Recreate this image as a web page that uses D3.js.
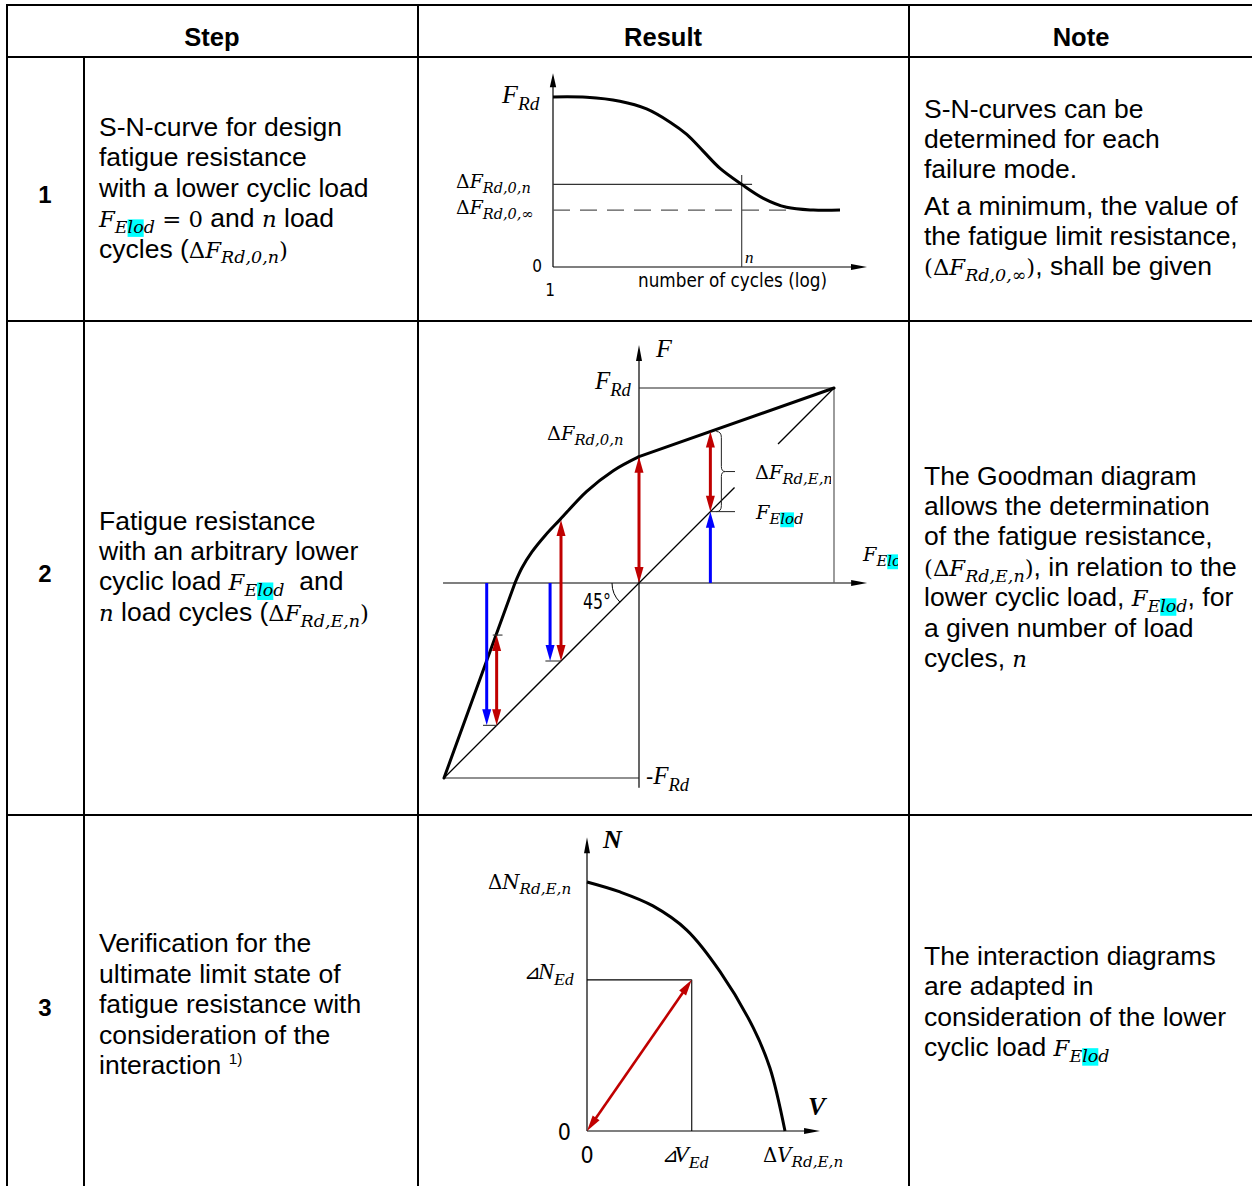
<!DOCTYPE html>
<html>
<head>
<meta charset="utf-8">
<script src="https://cdn.jsdelivr.net/npm/d3@7"></script>
<style>
  html, body { margin: 0; padding: 0; background: #fff; }
  svg { display: block; }
  text { white-space: pre; }
</style>
</head>
<body>
<svg id="chart" width="1252" height="1186"></svg>
<script>
// ---------- data ----------
const headers = ["Step", "Result", "Note"];
const stepNumbers = ["1", "2", "3"];

// step 1: S-N curve, x = log(cycles), y = F / F_Rd
const snCurve = [
  [0, 1.0], [1.07, 0.998], [2.13, 0.975], [2.98, 0.93], [3.73, 0.852],
  [4.26, 0.78], [4.79, 0.68], [5.32, 0.58], [6.01, 0.486], [6.7, 0.404],
  [7.44, 0.351], [8.29, 0.335], [9.14, 0.335]
];
const snLevels = { dF0n: 0.486, dFinf: 0.335, nCycles: 6.01 };

// step 2: Goodman diagram, both axes in units of F_Rd
const goodmanLower = [[-1, -1], [-0.636, 0]];
const goodmanArc = [
  [-0.636, 0], [-0.6, 0.078], [-0.55, 0.158], [-0.48, 0.245], [-0.405, 0.325],
  [-0.268, 0.47], [-0.132, 0.576], [0, 0.648]
];
const goodmanUpper = [[0, 0.648], [1, 1]];
const diagonalParts = [[[-1, -1], [0.49, 0.49]], [[0.713, 0.713], [1, 1]]];
// vertical arrows: x, from, to, colour, double headed
const goodmanArrows = [
  { x: 0, y1: 0, y2: 0.648, c: "red", both: true },
  { x: -0.4, y1: -0.4, y2: 0.323, c: "red", both: true },
  { x: -0.456, y1: 0, y2: -0.4, c: "blue", both: false },
  { x: -0.73, y1: -0.73, y2: -0.267, c: "red", both: true },
  { x: -0.781, y1: 0, y2: -0.73, c: "blue", both: false },
  { x: 0.366, y1: 0, y2: 0.366, c: "blue", both: false },
  { x: 0.366, y1: 0.366, y2: 0.777, c: "red", both: true }
];
const goodmanTicks = [[-0.8, -0.73, -0.73], [-0.75, -0.7, -0.267], [-0.48, -0.4, -0.4]];

// step 3: N-V interaction, both normalised
const interactionCurve = [
  [0, 1], [0.167, 0.96], [0.333, 0.904], [0.504, 0.807],
  [0.672, 0.64], [0.84, 0.414], [0.924, 0.253], [1, 0]
];
const designPoint = { v: 0.529, n: 0.607 };

// ---------- fonts ----------
const SANS = "'Liberation Sans', Arial, sans-serif";
const NARROW = "'Liberation Sans Narrow', 'Arial Narrow', 'DejaVu Sans Condensed', sans-serif";
const TIMES = "'Liberation Serif', 'Times New Roman', serif";
const MATH = "'DejaVu Serif', Cambria, serif";
const RED = "#c00000", BLUE = "#0000ff";

const svg = d3.select("#chart");

// text built from pieces (math, subscripts, highlight)
const T = t => ({ t, k: "sans" });
const M = t => ({ t, k: "mi" });
const U = t => ({ t, k: "mu" });
const S = (t, bg) => ({ t, k: "sub", bg });
const P = t => ({ t, k: "sup" });
const TI = t => ({ t, k: "ti" });
const TS = t => ({ t, k: "tsub" });

function rich(g, x, y, parts, size) {
  size = size || 26.5;
  let cx = x;
  parts.forEach(p => {
    let fam = SANS, fs = size, it = false, dy = 0;
    if (p.k === "mi") { fam = MATH; fs = size * 0.86; it = true; }
    if (p.k === "mu") { fam = MATH; fs = size * 0.86; }
    if (p.k === "sub") { fam = MATH; fs = size * 0.66; it = true; dy = size * 0.22; }
    if (p.k === "sup") { fs = size * 0.58; dy = -size * 0.36; }
    if (p.k === "ti") { fam = TIMES; fs = size; it = true; }
    if (p.k === "tsub") { fam = TIMES; fs = size * 0.74; it = true; dy = size * 0.26; }
    const t = g.append("text")
      .attr("x", cx).attr("y", y + dy)
      .attr("xml:space", "preserve")
      .attr("font-family", fam).attr("font-size", fs)
      .attr("font-style", it ? "italic" : "normal")
      .attr("fill", "#000")
      .text(p.t);
    const w = t.node().getComputedTextLength();
    if (p.bg) {
      g.insert("rect", () => t.node())
        .attr("x", cx).attr("y", y + dy - fs * 0.78)
        .attr("width", w).attr("height", fs * 1.0)
        .attr("fill", "#00ffff");
    }
    cx += w;
  });
  return cx;
}

function arrowHead(g, tx, ty, dx, dy, len, hw, color) {
  const l = Math.hypot(dx, dy), ux = dx / l, uy = dy / l;
  const bx = tx - ux * len, by = ty - uy * len;
  g.append("path")
    .attr("d", `M${tx},${ty}L${bx - uy * hw},${by + ux * hw}L${bx + uy * hw},${by - ux * hw}Z`)
    .attr("fill", color);
}

function seg(g, x1, y1, x2, y2, color, w) {
  return g.append("line")
    .attr("x1", x1).attr("y1", y1).attr("x2", x2).attr("y2", y2)
    .attr("stroke", color || "#000").attr("stroke-width", w || 1.2);
}

// ---------- table ----------
const grid = svg.append("g");
const LW = 2;
seg(grid, 6, 5, 1252, 5, "#000", LW);
seg(grid, 6, 57, 1252, 57, "#000", LW);
seg(grid, 6, 321, 1252, 321, "#000", LW);
seg(grid, 6, 815, 1252, 815, "#000", LW);
seg(grid, 7, 4, 7, 1186, "#000", LW);
seg(grid, 84, 57, 84, 1186, "#000", LW);
seg(grid, 418, 4, 418, 1186, "#000", LW);
seg(grid, 909, 4, 909, 1186, "#000", LW);

const headerX = [212, 663, 1081];
headers.forEach((h, i) => {
  grid.append("text").attr("x", headerX[i]).attr("y", 46)
    .attr("text-anchor", "middle").attr("font-family", SANS)
    .attr("font-weight", "bold").attr("font-size", 25.5).text(h);
});
const numY = [203, 582, 1016];
stepNumbers.forEach((s, i) => {
  grid.append("text").attr("x", 45).attr("y", numY[i])
    .attr("text-anchor", "middle").attr("font-family", SANS)
    .attr("font-weight", "bold").attr("font-size", 24).text(s);
});

const FElod = [M("F"), S("E"), S("lo", true), S("d")];

function para(x, y0, lines, gap) {
  lines.forEach((ln, i) => rich(svg, x, y0 + i * (gap || 30.4), ln));
}

para(99, 136, [
  [T("S-N-curve for design")],
  [T("fatigue resistance")],
  [T("with a lower cyclic load")],
  [...FElod, U(" = 0"), T(" and "), M("n"), T(" load")],
  [T("cycles ("), U("Δ"), M("F"), S("Rd,0,n"), U(")")]
]);
para(99, 529.5, [
  [T("Fatigue resistance")],
  [T("with an arbitrary lower")],
  [T("cyclic load "), ...FElod, T("  and")],
  [M("n"), T(" load cycles ("), U("Δ"), M("F"), S("Rd,E,n"), U(")")]
]);
const s3 = svg.append("g");
["Verification for the", "ultimate limit state of", "fatigue resistance with",
 "consideration of the"].forEach((l, i) => rich(s3, 99, 952 + i * 30.5, [T(l)]));
rich(s3, 99, 952 + 4 * 30.5, [T("interaction "), P("1)")]);

para(924, 117.7, [
  [T("S-N-curves can be")],
  [T("determined for each")],
  [T("failure mode.")]
], 30.3);
para(924, 215, [
  [T("At a minimum, the value of")],
  [T("the fatigue limit resistance,")],
  [U("("), U("Δ"), M("F"), S("Rd,0,∞"), U(")"), T(", shall be given")]
], 30);
para(924, 484.5, [
  [T("The Goodman diagram")],
  [T("allows the determination")],
  [T("of the fatigue resistance,")],
  [U("("), U("Δ"), M("F"), S("Rd,E,n"), U(")"), T(", in relation to the")],
  [T("lower cyclic load, "), ...FElod, T(", for")],
  [T("a given number of load")],
  [T("cycles, "), M("n")]
], 30.4);
para(924, 964.5, [
  [T("The interaction diagrams")],
  [T("are adapted in")],
  [T("consideration of the lower")],
  [T("cyclic load "), ...FElod]
], 30.5);

// ---------- diagram 1: S-N curve ----------
const g1 = svg.append("g");
const x1 = d3.scaleLinear().domain([0, 10]).range([553, 867]);
const y1 = d3.scaleLinear().domain([0, 1]).range([267, 97]);

seg(g1, x1(0), y1(0), x1(10) - 6, y1(0), "#000", 1.2);
arrowHead(g1, x1(10), y1(0), 1, 0, 16, 3, "#000");
seg(g1, x1(0), y1(0), x1(0), y1(1.14) + 6, "#000", 1.2);
arrowHead(g1, x1(0), y1(1.14), 0, -1, 14, 3.2, "#000");

seg(g1, x1(0), y1(snLevels.dF0n), x1(snLevels.nCycles + 0.33), y1(snLevels.dF0n), "#333", 1.1);
seg(g1, x1(snLevels.nCycles), y1(snLevels.dF0n + 0.055), x1(snLevels.nCycles), y1(0), "#333", 1.1);
seg(g1, x1(0), y1(snLevels.dFinf), x1(7.6), y1(snLevels.dFinf), "#555", 1.2)
  .attr("stroke-dasharray", "17,10");

g1.append("path")
  .datum(snCurve)
  .attr("fill", "none").attr("stroke", "#000").attr("stroke-width", 3)
  .attr("d", d3.line().x(d => x1(d[0])).y(d => y1(d[1])).curve(d3.curveCatmullRom));

rich(g1, 502, 103, [TI("F"), TS("Rd")], 26);
rich(g1, 456, 188, [U("Δ"), M("F"), S("Rd,0,n")], 22);
rich(g1, 456, 214, [U("Δ"), M("F"), S("Rd,0,∞")], 22);
g1.append("text").attr("x", 542).attr("y", 272).attr("text-anchor", "end")
  .attr("font-family", NARROW).attr("font-size", 17).text("0");
g1.append("text").attr("x", 550).attr("y", 296).attr("text-anchor", "middle")
  .attr("font-family", NARROW).attr("font-size", 17).text("1");
g1.append("text").attr("x", 745).attr("y", 263)
  .attr("font-family", TIMES).attr("font-style", "italic").attr("font-size", 17).text("n");
g1.append("text").attr("x", 638).attr("y", 287)
  .attr("font-family", NARROW).attr("font-size", 19)
  .attr("textLength", 189).attr("lengthAdjust", "spacingAndGlyphs")
  .text("number of cycles (log)");

// ---------- diagram 2: Goodman ----------
const g2 = svg.append("g");
const gx = d3.scaleLinear().domain([-1, 1]).range([444, 834]);
const gy = d3.scaleLinear().domain([-1, 1]).range([778, 388]);
const gLine = d3.line().x(d => gx(d[0])).y(d => gy(d[1]));

seg(g2, gx(-1.005), gy(0), gx(1.17) - 6, gy(0), "#000", 1.2);
arrowHead(g2, gx(1.17), gy(0), 1, 0, 16, 3, "#000");
seg(g2, gx(0), gy(-1.05), gx(0), gy(1.22) + 6, "#000", 1.2);
arrowHead(g2, gx(0), gy(1.22), 0, -1, 16, 3, "#000");

seg(g2, gx(0), gy(1), gx(1), gy(1), "#222", 1.2);
seg(g2, gx(1), gy(1), gx(1), gy(0), "#666", 1.3);
seg(g2, gx(-1), gy(-1), gx(0), gy(-1), "#222", 1.2);
diagonalParts.forEach(p => seg(g2, gx(p[0][0]), gy(p[0][1]), gx(p[1][0]), gy(p[1][1]), "#000", 1.3));

// 45 degree arc
const r45 = 27;
g2.append("path")
  .attr("d", `M${gx(0) - r45},${gy(0)} A${r45},${r45} 0 0 0 ${gx(0) - r45 * Math.SQRT1_2},${gy(0) + r45 * Math.SQRT1_2}`)
  .attr("fill", "none").attr("stroke", "#000").attr("stroke-width", 1);

[goodmanLower, goodmanUpper].forEach(d =>
  g2.append("path").datum(d).attr("fill", "none").attr("stroke", "#000")
    .attr("stroke-width", 3).attr("stroke-linecap", "round").attr("d", gLine));
g2.append("path").datum(goodmanArc).attr("fill", "none").attr("stroke", "#000")
  .attr("stroke-width", 3).attr("d", d3.line().x(d => gx(d[0])).y(d => gy(d[1])).curve(d3.curveCatmullRom));

goodmanTicks.forEach(t => seg(g2, gx(t[0]), gy(t[2]), gx(t[1]), gy(t[2]), "#333", 1.1));

goodmanArrows.forEach(a => {
  const col = a.c === "red" ? RED : BLUE;
  const X = gx(a.x), Y1 = gy(a.y1), Y2 = gy(a.y2);
  const dir = Y2 > Y1 ? 1 : -1;
  seg(g2, X, Y1 + (a.both ? dir * 10 : 0), X, Y2 - dir * 10, col, 3);
  arrowHead(g2, X, Y2, 0, dir, 16, 4.5, col);
  if (a.both) arrowHead(g2, X, Y1, 0, -dir, 16, 4.5, col);
});

// brace for delta F_Rd,E,n
const bA = goodmanArrows[6];
const bx0 = gx(bA.x) + 6, bTop = gy(bA.y2), bBot = gy(bA.y1), bMid = (bTop + bBot) / 2;
g2.append("path")
  .attr("d", `M${bx0},${bTop} Q${bx0 + 5},${bTop} ${bx0 + 5},${bTop + 6} L${bx0 + 5},${bMid - 5} Q${bx0 + 5},${bMid} ${bx0 + 9},${bMid} Q${bx0 + 5},${bMid} ${bx0 + 5},${bMid + 5} L${bx0 + 5},${bBot - 6} Q${bx0 + 5},${bBot} ${bx0},${bBot}`)
  .attr("fill", "none").attr("stroke", "#222").attr("stroke-width", 1);
seg(g2, bx0 + 9, bMid, 735, bMid, "#222", 1);
seg(g2, gx(bA.x), bBot, 735, bBot, "#222", 1);

const defs = svg.append("defs");
defs.append("clipPath").attr("id", "clipA").append("rect")
  .attr("x", 740).attr("y", 440).attr("width", 91).attr("height", 60);
defs.append("clipPath").attr("id", "clipB").append("rect")
  .attr("x", 850).attr("y", 530).attr("width", 48).attr("height", 50);

rich(g2, 656, 357, [TI("F")], 26);
rich(g2, 595, 389, [TI("F"), TS("Rd")], 25);
rich(g2, 547, 440, [U("Δ"), M("F"), S("Rd,0,n")], 22.5);
rich(g2.append("g").attr("clip-path", "url(#clipA)"), 755, 479, [U("Δ"), M("F"), S("Rd,E,n")], 22.5);
rich(g2, 756, 519, [M("F"), S("E"), S("lo", true), S("d")], 22.5);
rich(g2.append("g").attr("clip-path", "url(#clipB)"), 863, 561, [M("F"), S("E"), S("lo", true), S("d")], 22.5);
rich(g2, 646, 784, [U("-"), TI("F"), TS("Rd")], 25);
g2.append("text").attr("x", 583).attr("y", 609)
  .attr("font-family", NARROW).attr("font-size", 21)
  .attr("textLength", 28).attr("lengthAdjust", "spacingAndGlyphs").text("45°");

// ---------- diagram 3: interaction ----------
const g3 = svg.append("g");
const ix = d3.scaleLinear().domain([0, 1]).range([587, 785]);
const iy = d3.scaleLinear().domain([0, 1]).range([1131, 882]);

seg(g3, ix(0), iy(0), ix(1.177) - 6, iy(0), "#000", 1.2);
arrowHead(g3, ix(1.177), iy(0), 1, 0, 16, 3, "#000");
seg(g3, ix(0), iy(0), ix(0), iy(1.18) + 6, "#000", 1.2);
arrowHead(g3, ix(0), iy(1.18), 0, -1, 16, 3, "#000");

seg(g3, ix(0), iy(designPoint.n), ix(designPoint.v), iy(designPoint.n), "#000", 1.1);
seg(g3, ix(designPoint.v), iy(designPoint.n), ix(designPoint.v), iy(0), "#000", 1.1);

g3.append("path").datum(interactionCurve)
  .attr("fill", "none").attr("stroke", "#000").attr("stroke-width", 3)
  .attr("d", d3.line().x(d => ix(d[0])).y(d => iy(d[1])).curve(d3.curveCatmullRom));

{
  const X1 = ix(0), Y1 = iy(0), X2 = ix(designPoint.v), Y2 = iy(designPoint.n);
  const L = Math.hypot(X2 - X1, Y2 - Y1), ux = (X2 - X1) / L, uy = (Y2 - Y1) / L;
  seg(g3, X1 + ux * 10, Y1 + uy * 10, X2 - ux * 10, Y2 - uy * 10, RED, 2.6);
  arrowHead(g3, X2, Y2, ux, uy, 16, 4.2, RED);
  arrowHead(g3, X1, Y1, -ux, -uy, 16, 4.2, RED);
}

g3.append("text").attr("x", 603).attr("y", 848)
  .attr("font-family", TIMES).attr("font-style", "italic").attr("font-weight", "bold")
  .attr("font-size", 26).text("N");
g3.append("text").attr("x", 808).attr("y", 1115)
  .attr("font-family", TIMES).attr("font-style", "italic").attr("font-weight", "bold")
  .attr("font-size", 26).text("V");
rich(g3, 488, 889, [U("Δ"), M("N"), S("Rd,E,n")], 23);
rich(g3, 763, 1162, [U("Δ"), M("V"), S("Rd,E,n")], 23);
g3.append("text").attr("x", 524).attr("y", 979)
  .attr("font-family", "'DejaVu Sans', sans-serif").attr("font-size", 20).text("⊿");
rich(g3, 538, 979, [TI("N"), TS("Ed")], 24);
g3.append("text").attr("x", 662).attr("y", 1162)
  .attr("font-family", "'DejaVu Sans', sans-serif").attr("font-size", 20).text("⊿");
rich(g3, 674, 1162, [TI("V"), TS("Ed")], 24);
g3.append("text").attr("x", 571).attr("y", 1140).attr("text-anchor", "end")
  .attr("font-family", NARROW).attr("font-size", 23).text("0");
g3.append("text").attr("x", 587).attr("y", 1163).attr("text-anchor", "middle")
  .attr("font-family", NARROW).attr("font-size", 23).text("0");
</script>
</body>
</html>
